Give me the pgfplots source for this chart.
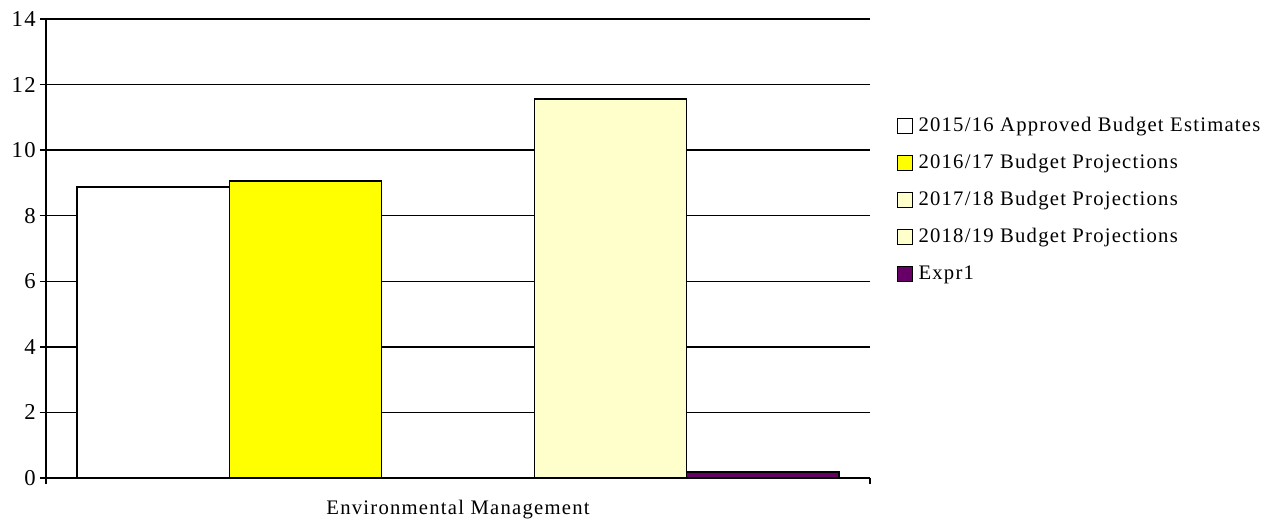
\documentclass[border=0pt]{standalone}
\usepackage{fontspec}
\setmainfont{Liberation Serif}[LetterSpace=6]
\usepackage{pgfplots}
\pgfplotsset{compat=1.18}
\definecolor{byellow}{HTML}{FFFF00}
\definecolor{lyellow}{HTML}{FFFFCC}
\definecolor{expr}{HTML}{660066}
\begin{document}
\begin{tikzpicture}
\path[use as bounding box] (-34.5pt,-30.75pt) rectangle (914.25pt,358.5pt);
\begin{axis}[
  scale only axis,
  width=618pt, height=344.25pt,
  at={(0,0)}, anchor=south west,
  ybar=0pt, bar width=0.185,
  xmin=-0.5, xmax=0.5,
  ymin=0, ymax=14,
  ytick={0,2,...,14},
  xtick={-0.5,0.5}, xticklabels={},
  axis x line*=bottom, axis y line*=left,
  axis line style={-, line width=1pt},
  tick align=outside, major tick length=4.5pt,
  tick style={black, line width=1pt},
  ymajorgrids=true,
  grid style={black, line width=1pt},
  /pgf/number format/assume math mode=true,
  yticklabel style={font=\fontsize{17}{20}\selectfont, inner sep=1pt, xshift=-2pt},
  xlabel={Environmental Management},
  xlabel style={font=\fontsize{15.5}{18}\selectfont, at={(axis description cs:0.5,0)}, anchor=base, yshift=-27pt},
  legend cell align=left,
  legend style={at={(1.027,0.606)}, anchor=west, draw=none, fill=none,
    font=\fontsize{15.5}{18}\selectfont, row sep=11.75pt,
    /tikz/every odd column/.append style={column sep=3pt},
    nodes={text height=11pt, text depth=3pt, inner sep=1pt}},
  legend image code/.code={\draw[#1, draw=black, line width=1pt] (0pt,-5.5pt) rectangle (11.5pt,5.5pt);},
  every axis plot/.append style={draw=black, line width=1pt},
]
\addplot[fill=white] coordinates {(0,8.88)};
\addplot[fill=byellow] coordinates {(0,9.06)};
\addplot[fill=lyellow] coordinates {(0,0)};
\addplot[fill=lyellow] coordinates {(0,11.56)};
\addplot[fill=expr] coordinates {(0,0.18)};
\legend{2015/16 Approved Budget Estimates,2016/17 Budget Projections,2017/18 Budget Projections,2018/19 Budget Projections,Expr1}
\end{axis}
\end{tikzpicture}
\end{document}
